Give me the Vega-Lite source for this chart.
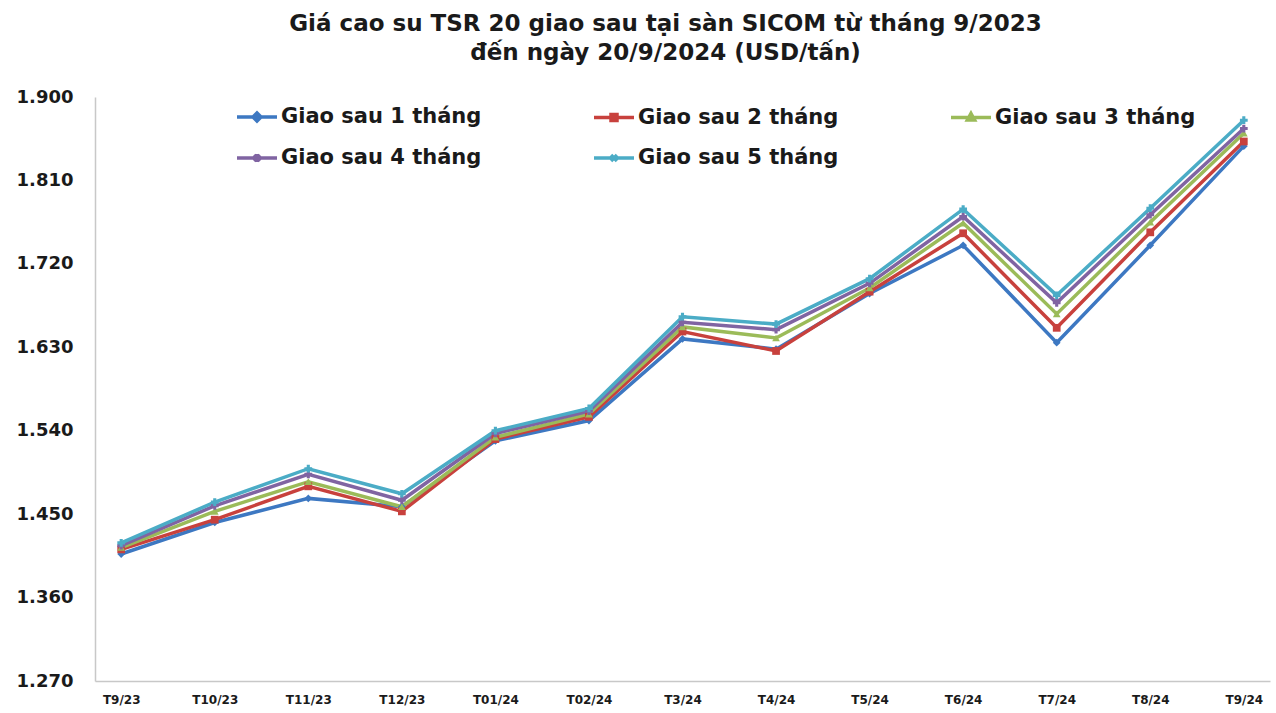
{
  "$schema": "https://vega.github.io/schema/vega-lite/v6.json",
  "autosize": "none",
  "width": 1175,
  "height": 584,
  "padding": {"left": 95, "top": 97, "right": 6, "bottom": 32},
  "background": "white",
  "config": {"view": {"stroke": null}, "font": "DejaVu Sans"},
  "title": {
    "text": ["Giá cao su TSR 20 giao sau tại sàn SICOM từ tháng 9/2023", "đến ngày 20/9/2024 (USD/tấn)"],
    "fontSize": 23, "fontWeight": "bold", "color": "#1a1a1a", "font": "DejaVu Sans",
    "anchor": "middle", "dx": -17, "offset": 23, "lineHeight": 29
  },
  "data": {"values": [
    {"m":"T9/23","s":"Giao sau 1 tháng","v":1407},{"m":"T9/23","s":"Giao sau 2 tháng","v":1412},{"m":"T9/23","s":"Giao sau 3 tháng","v":1414},{"m":"T9/23","s":"Giao sau 4 tháng","v":1416},{"m":"T9/23","s":"Giao sau 5 tháng","v":1419},
    {"m":"T10/23","s":"Giao sau 1 tháng","v":1441},{"m":"T10/23","s":"Giao sau 2 tháng","v":1444},{"m":"T10/23","s":"Giao sau 3 tháng","v":1453},{"m":"T10/23","s":"Giao sau 4 tháng","v":1459},{"m":"T10/23","s":"Giao sau 5 tháng","v":1463},
    {"m":"T11/23","s":"Giao sau 1 tháng","v":1467},{"m":"T11/23","s":"Giao sau 2 tháng","v":1480},{"m":"T11/23","s":"Giao sau 3 tháng","v":1485},{"m":"T11/23","s":"Giao sau 4 tháng","v":1493},{"m":"T11/23","s":"Giao sau 5 tháng","v":1499},
    {"m":"T12/23","s":"Giao sau 1 tháng","v":1458},{"m":"T12/23","s":"Giao sau 2 tháng","v":1453},{"m":"T12/23","s":"Giao sau 3 tháng","v":1458},{"m":"T12/23","s":"Giao sau 4 tháng","v":1465},{"m":"T12/23","s":"Giao sau 5 tháng","v":1472},
    {"m":"T01/24","s":"Giao sau 1 tháng","v":1529},{"m":"T01/24","s":"Giao sau 2 tháng","v":1531},{"m":"T01/24","s":"Giao sau 3 tháng","v":1533},{"m":"T01/24","s":"Giao sau 4 tháng","v":1537},{"m":"T01/24","s":"Giao sau 5 tháng","v":1540},
    {"m":"T02/24","s":"Giao sau 1 tháng","v":1551},{"m":"T02/24","s":"Giao sau 2 tháng","v":1555},{"m":"T02/24","s":"Giao sau 3 tháng","v":1558},{"m":"T02/24","s":"Giao sau 4 tháng","v":1561},{"m":"T02/24","s":"Giao sau 5 tháng","v":1564},
    {"m":"T3/24","s":"Giao sau 1 tháng","v":1639},{"m":"T3/24","s":"Giao sau 2 tháng","v":1647},{"m":"T3/24","s":"Giao sau 3 tháng","v":1652},{"m":"T3/24","s":"Giao sau 4 tháng","v":1657},{"m":"T3/24","s":"Giao sau 5 tháng","v":1663},
    {"m":"T4/24","s":"Giao sau 1 tháng","v":1628},{"m":"T4/24","s":"Giao sau 2 tháng","v":1626},{"m":"T4/24","s":"Giao sau 3 tháng","v":1640},{"m":"T4/24","s":"Giao sau 4 tháng","v":1649},{"m":"T4/24","s":"Giao sau 5 tháng","v":1655},
    {"m":"T5/24","s":"Giao sau 1 tháng","v":1688},{"m":"T5/24","s":"Giao sau 2 tháng","v":1690},{"m":"T5/24","s":"Giao sau 3 tháng","v":1694},{"m":"T5/24","s":"Giao sau 4 tháng","v":1699},{"m":"T5/24","s":"Giao sau 5 tháng","v":1704},
    {"m":"T6/24","s":"Giao sau 1 tháng","v":1740},{"m":"T6/24","s":"Giao sau 2 tháng","v":1753},{"m":"T6/24","s":"Giao sau 3 tháng","v":1764},{"m":"T6/24","s":"Giao sau 4 tháng","v":1771},{"m":"T6/24","s":"Giao sau 5 tháng","v":1779},
    {"m":"T7/24","s":"Giao sau 1 tháng","v":1635},{"m":"T7/24","s":"Giao sau 2 tháng","v":1651},{"m":"T7/24","s":"Giao sau 3 tháng","v":1666},{"m":"T7/24","s":"Giao sau 4 tháng","v":1678},{"m":"T7/24","s":"Giao sau 5 tháng","v":1686},
    {"m":"T8/24","s":"Giao sau 1 tháng","v":1740},{"m":"T8/24","s":"Giao sau 2 tháng","v":1754},{"m":"T8/24","s":"Giao sau 3 tháng","v":1765},{"m":"T8/24","s":"Giao sau 4 tháng","v":1773},{"m":"T8/24","s":"Giao sau 5 tháng","v":1780},
    {"m":"T9/24","s":"Giao sau 1 tháng","v":1847},{"m":"T9/24","s":"Giao sau 2 tháng","v":1852},{"m":"T9/24","s":"Giao sau 3 tháng","v":1861},{"m":"T9/24","s":"Giao sau 4 tháng","v":1866},{"m":"T9/24","s":"Giao sau 5 tháng","v":1875}
  ]},
  "encoding": {
    "x": {"field": "m", "type": "ordinal", "sort": null, "scale": {"type": "point", "padding": 0.28},
      "axis": {"title": null, "labelAngle": 0, "domain": true, "domainColor": "#c8c8c8", "domainWidth": 1.5, "ticks": false, "labelFontSize": 12, "labelFontWeight": "bold", "labelColor": "#1a1a1a", "labelPadding": 13, "labelFont": "DejaVu Sans"}},
    "y": {"field": "v", "type": "quantitative", "scale": {"domain": [1270, 1900], "nice": false, "zero": false},
      "axis": {"title": null, "values": [1270, 1360, 1450, 1540, 1630, 1720, 1810, 1900], "grid": false, "domain": true, "domainColor": "#c8c8c8", "domainWidth": 1.5, "ticks": false,
        "labelExpr": "replace(format(datum.value, ','), ',', '.')", "labelFontSize": 18, "labelFontWeight": "bold", "labelColor": "#1a1a1a", "labelPadding": 22, "labelFont": "DejaVu Sans"}},
    "color": {"field": "s", "type": "nominal",
      "scale": {"domain": ["Giao sau 1 tháng", "Giao sau 2 tháng", "Giao sau 3 tháng", "Giao sau 4 tháng", "Giao sau 5 tháng"],
        "range": ["#3d78c2", "#c8413d", "#9bbb59", "#8064a2", "#4bacc6"]}}
  },
  "layer": [
    {"mark": {"type": "line", "strokeWidth": 3.5},
      "encoding": {"color": {"field": "s", "type": "nominal",
        "legend": {"title": null, "orient": "none", "legendX": 140, "legendY": -2, "columns": 3, "direction": "horizontal", "gridAlign": "all", "columnPadding": 105, "rowPadding": 8,
          "symbolType": "stroke", "symbolSize": 1600, "symbolStrokeWidth": 3.5, "labelFontSize": 21, "labelFontWeight": "bold", "labelColor": "#1a1a1a", "labelOffset": 2, "labelFont": "DejaVu Sans", "labelLimit": 400,
          "encode": {"symbols": {"update": {"shape": {"signal": "datum.value === 'Giao sau 1 tháng' ? 'M-1,0H1M0,-0.2L0.2,0L0,0.2L-0.2,0Z' : datum.value === 'Giao sau 2 tháng' ? 'M-1,0H1M-0.15,-0.15H0.15V0.15H-0.15Z' : datum.value === 'Giao sau 3 tháng' ? 'M-1,0H1M0,-0.2L0.18,0.13H-0.18Z' : datum.value === 'Giao sau 4 tháng' ? 'M-1,0H1M-0.15,-0.15L0.15,0.15M-0.15,0.15L0.15,-0.15M0,-0.2V0.2' : 'M-1,0H1M-0.15,-0.15L0.15,0.15M-0.15,0.15L0.15,-0.15'"}}}}}}}},
    {"mark": {"type": "point", "filled": true, "size": 60, "opacity": 1},
      "encoding": {
        "color": {"field": "s", "type": "nominal", "legend": null},
        "shape": {"field": "s", "type": "nominal", "legend": null,
        "scale": {"domain": ["Giao sau 1 tháng", "Giao sau 2 tháng", "Giao sau 3 tháng", "Giao sau 4 tháng", "Giao sau 5 tháng"],
          "range": ["diamond", "square", "triangle-up", "cross", "cross"]}}}}
  ],
  "resolve": {"legend": {"color": "independent", "shape": "independent"}}
}
